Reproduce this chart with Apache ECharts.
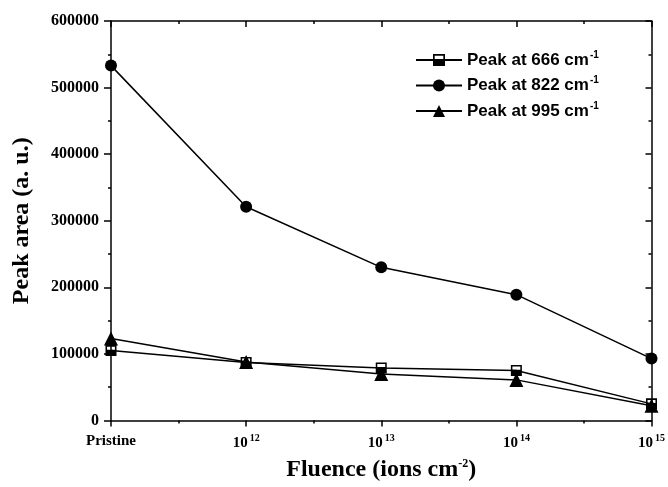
<!DOCTYPE html>
<html>
<head>
<meta charset="utf-8">
<script src="https://cdn.jsdelivr.net/npm/echarts@6/dist/echarts.min.js"></script>
<style>
    html, body { margin: 0; padding: 0; background: #fff; }
    #chart { width: 668px; height: 487px; }
</style>
</head>
<body>
<div id="chart"></div>
<script>
// x positions are category indices: Pristine, 1e12, 1e13, 1e14, 1e15
const fluenceLabels = ["Pristine", "12", "13", "14", "15"];
const peak666 = [105000, 87000, 79000, 75000, 25000];
const peak822 = [533000, 321000, 230000, 189000, 93000];
const peak995 = [123000, 88000, 70000, 61000, 22000];

const chart = echarts.init(document.getElementById("chart"));

// half filled square, like the origin marker
const halfSquare = "path://M0,0 L10,0 L10,10 L0,10 Z M1.4,1.4 L1.4,4.2 L8.6,4.2 L8.6,1.4 Z";

function toPoints(values) {
    return values.map(function (v, i) {
        return [i, v];
    });
}

const serif = "'Liberation Serif', 'Times New Roman', serif";
const sans = "'Liberation Sans', Arial, sans-serif";

function makeSeries(name, values, symbol, size) {
    return {
        name: name,
        type: "line",
        data: toPoints(values),
        symbol: symbol,
        symbolSize: size,
        showAllSymbol: true,
        clip: true,
        lineStyle: {color: "#000", width: 1.5},
        itemStyle: {color: "#000", borderColor: "#000", borderWidth: 0},
        emphasis: {disabled: true},
        z: 3
    };
}

const legendNames = ["Peak at 666 cm", "Peak at 822 cm", "Peak at 995 cm"];

const axisLine = {show: true, onZero: false, lineStyle: {color: "#000", width: 1.5}};
const minor = {show: true, splitNumber: 2, length: 3, lineStyle: {color: "#000", width: 1.5}};

chart.setOption({
    animation: false,
    backgroundColor: "#fff",
    grid: {left: 111, right: 14, top: 21, bottom: 63},
    legend: {
        data: legendNames,
        orient: "vertical",
        left: 410,
        top: 45,
        itemGap: 7,
        itemWidth: 46,
        itemHeight: 15,
        formatter: function (name) {
            return "{t|" + name + "}{s|-1}";
        },
        textStyle: {
            rich: {
                t: {fontFamily: sans, fontWeight: "bold", fontSize: 17, color: "#000"},
                s: {fontFamily: sans, fontWeight: "bold", fontSize: 10, color: "#000", verticalAlign: "top", padding: [0, 0, 10, 1]}
            }
        }
    },
    xAxis: [
        {
            type: "value",
            min: 0,
            max: 4,
            interval: 1,
            name: "Fluence (ions cm{s|-2}{t|)}",
            nameLocation: "middle",
            nameGap: 37,
            nameTextStyle: {
                fontFamily: serif, fontWeight: "bold", fontSize: 24, color: "#000",
                rich: {
                    s: {fontFamily: serif, fontWeight: "bold", fontSize: 12, color: "#000", verticalAlign: "top", padding: [0, 0, 13, 0]},
                    t: {fontFamily: serif, fontWeight: "bold", fontSize: 24, color: "#000"}
                }
            },
            axisLine: axisLine,
            axisTick: {inside: false, length: 6, lineStyle: {color: "#000", width: 1.5}},
            minorTick: minor,
            splitLine: {show: false},
            axisLabel: {
                margin: 13,
                formatter: function (v) {
                    const lab = fluenceLabels[v];
                    if (v === 0) {
                        return "{p|" + lab + "}";
                    }
                    return "{b|10}{s|" + lab + "}";
                },
                rich: {
                    p: {fontFamily: serif, fontWeight: "bold", fontSize: 15, color: "#000"},
                    b: {fontFamily: serif, fontWeight: "bold", fontSize: 15, color: "#000"},
                    s: {fontFamily: serif, fontWeight: "bold", fontSize: 10, color: "#000", verticalAlign: "top", padding: [0, 0, 10, 2]}
                }
            }
        },
        {
            type: "value",
            position: "top",
            min: 0,
            max: 4,
            interval: 1,
            axisLine: axisLine,
            axisTick: {inside: true, length: 6, lineStyle: {color: "#000", width: 1.5}},
            minorTick: minor,
            axisLabel: {show: false},
            splitLine: {show: false}
        }
    ],
    yAxis: [
        {
            type: "value",
            min: 0,
            max: 600000,
            interval: 100000,
            name: "Peak area (a. u.)",
            nameLocation: "middle",
            nameGap: 77,
            nameTextStyle: {fontFamily: serif, fontWeight: "bold", fontSize: 24, color: "#000"},
            axisLine: axisLine,
            axisTick: {show: true, inside: false, length: 7, lineStyle: {color: "#000", width: 1.5}},
            minorTick: minor,
            splitLine: {show: false},
            axisLabel: {
                margin: 12, fontFamily: serif, fontWeight: "bold", fontSize: 16, color: "#000",
                formatter: function (v) {
                    return String(v);
                }
            }
        },
        {
            type: "value",
            position: "right",
            min: 0,
            max: 600000,
            interval: 100000,
            axisLine: axisLine,
            axisTick: {show: true, inside: true, length: 6, lineStyle: {color: "#000", width: 1.5}},
            minorTick: minor,
            axisLabel: {show: false},
            splitLine: {show: false}
        }
    ],
    series: [
        makeSeries(legendNames[0], peak666, halfSquare, 11),
        makeSeries(legendNames[1], peak822, "circle", 12),
        makeSeries(legendNames[2], peak995, "triangle", 14)
    ]
});
</script>
</body>
</html>
